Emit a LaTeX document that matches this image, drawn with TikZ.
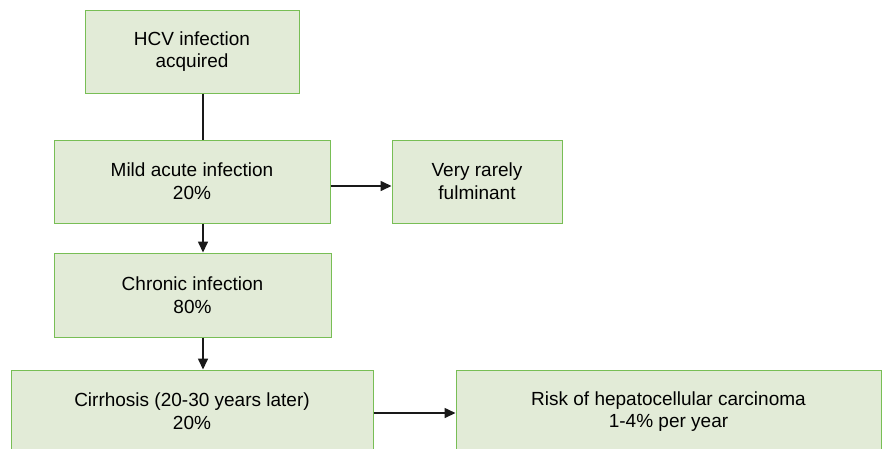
\documentclass[tikz,border=0pt]{standalone}
\usepackage{fontspec}
\setmainfont{Liberation Sans}
\usetikzlibrary{arrows.meta}
\definecolor{boxfill}{RGB}{226,235,215}
\definecolor{boxline}{RGB}{120,190,85}
\tikzset{
  flowbox/.style={draw=boxline, fill=boxfill, line width=1pt, rectangle, inner sep=0pt,
    align=center, font=\fontsize{19}{22.7}\selectfont, text=black},
  link/.style={draw=black!90, line width=1.6pt},
  arrowlink/.style={link, -{Triangle[length=11pt,width=10pt]}}
}
\begin{document}
\begin{tikzpicture}[x=1pt,y=-1pt]
\clip (0,0) rectangle (882,448);
\fill[white] (0,0) rectangle (882,448);
\node[flowbox, minimum width=214pt, minimum height=83pt] (b1) at (192,51.5) {HCV infection\\acquired};
\node[flowbox, minimum width=276pt, minimum height=83pt] (b2) at (192,181.5) {Mild acute infection\\20\%};
\node[flowbox, minimum width=170pt, minimum height=83pt] (b3) at (477,181.5) {Very rarely\\fulminant};
\node[flowbox, minimum width=277pt, minimum height=84pt] (b4) at (192.5,295) {Chronic infection\\80\%};
\node[flowbox, minimum width=362pt, minimum height=83pt] (b5) at (192,411.5) {Cirrhosis (20-30 years later)\\20\%};
\node[flowbox, minimum width=425pt, minimum height=83pt] (b6) at (668.5,411.5) {Risk of hepatocellular carcinoma\\1-4\% per year};
\coordinate (lx) at (203,0);
\coordinate (ay) at (0,186);
\coordinate (by) at (0,413);
\draw[link] (b1.south -| lx) -- (b2.north -| lx);
\draw[arrowlink] (b2.south -| lx) -- (b4.north -| lx);
\draw[arrowlink] (b4.south -| lx) -- (b5.north -| lx);
\draw[arrowlink] (b2.east |- ay) -- (b3.west |- ay);
\draw[arrowlink] (b5.east |- by) -- (b6.west |- by);
\end{tikzpicture}
\end{document}
